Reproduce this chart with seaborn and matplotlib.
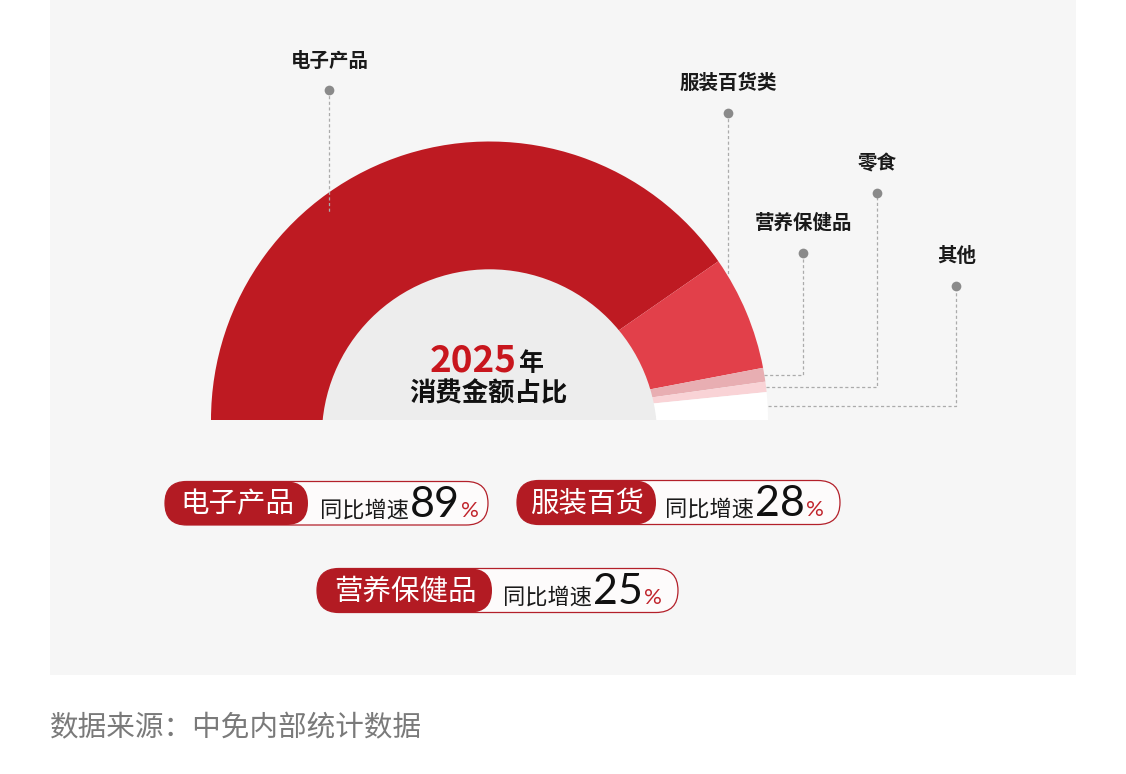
import numpy as np
import pandas as pd
import matplotlib
matplotlib.use('Agg')
import matplotlib.pyplot as plt
from matplotlib.patches import Circle, FancyBboxPatch, Rectangle
import seaborn as sns

# ---------------- data ----------------
categories = ['电子产品', '服装百货类', '营养保健品', '零食', '其他']
shares = [80.7, 13.3, 1.6, 1.2, 3.2]
slice_colors = ['#BE1A22', '#E2404A', '#E8AEB2', '#F9D3D6', '#FFFFFF']

badge_categories = ['电子产品', '服装百货', '营养保健品']
growth_rates = [89, 28, 25]

center_year = '2025'
center_year_suffix = '年'
center_title = '消费金额占比'
growth_label = '同比增速'
source_text = '数据来源：中免内部统计数据'

# ---------------- style ----------------
sns.set_theme(style='white')
plt.rcParams['font.family'] = ['Noto Sans CJK SC', 'DejaVu Sans']

W, H = 1126, 774
fig = plt.figure(figsize=(W / 100, H / 100), dpi=100)
fig.patch.set_facecolor('white')
ax = fig.add_axes([0, 0, 1, 1])

# panel background
ax.add_patch(Rectangle((50, 0), 1026, 675, facecolor='#F6F6F6', edgecolor='none', zorder=0))

# ---------------- half donut ----------------
cx, cy = 489.5, 420.0
R = 278.5
hole_cy, hole_r = 437.0, 167.7
total = sum(shares)
vals = shares + [total]                      # hidden lower half
cols = list(sns.color_palette(slice_colors)) + ['none']
wedges, _ = ax.pie(vals, colors=cols, startangle=180, counterclock=True,
                   radius=R, center=(cx, cy), frame=True,
                   wedgeprops=dict(linewidth=0, edgecolor='none'))
wedges[-1].set_visible(False)
for w in wedges:
    w.set_zorder(2)

hole = Circle((cx, hole_cy), hole_r, facecolor='#EDEDED', edgecolor='none', zorder=3)
ax.add_patch(hole)
hole.set_clip_path(Rectangle((0, 0), W, cy, transform=ax.transData))

ax.set_xlim(0, W)
ax.set_ylim(H, 0)
ax.set_aspect('equal')
ax.axis('off')

# ---------------- leader lines & labels ----------------
# layout: (x of leader, label y, dot y, style, end radius)
leader_layout = [
    (328.5, 61, 90, 'down', 263),
    (727.5, 83, 113, 'down', R),
    (802.5, 223, 253, 'elbow', R),
    (876.5, 164, 193, 'elbow', R),
    (955.5, 257, 286, 'elbow', R),
]
line_kw = dict(color='#ABABAB', lw=0.9, linestyle=(0, (2.5, 2)), zorder=4)
for w, cat, (lx, ly, dy, style, er) in zip(wedges[:-1], categories, leader_layout):
    if style == 'down':
        ey = cy - np.sqrt(er ** 2 - (lx - cx) ** 2)
        ax.plot([lx, lx], [dy, ey], **line_kw)
    else:
        mid = np.deg2rad((w.theta1 + w.theta2) / 2)
        px = cx + R * np.cos(mid)
        py = cy + R * np.sin(mid)
        ax.plot([px, lx, lx], [py, py, dy], **line_kw)
    ax.plot([lx], [dy], marker='o', markersize=7, color='#8A8A8A', markeredgewidth=0, zorder=5)
    ax.text(lx + 1, ly, cat, ha='center', va='center', fontsize=14, fontweight='bold',
            color='#1A1A1A', zorder=5)

# ---------------- center text ----------------
ax.text(517, 371, center_year, ha='right', va='baseline', fontsize=26.5, color='#C8161D',
        fontweight='bold', zorder=6)
ax.text(518, 371, center_year_suffix, ha='left', va='baseline', fontsize=18,
        fontweight='bold', color='#111111', zorder=6)
ax.text(488.5, 394, center_title, ha='center', va='center', fontsize=19,
        fontweight='bold', color='#111111', zorder=6)

# ---------------- badges ----------------
badge_layout = [  # x0, x1, x_red_end, y0, y1, x_text_start
    (165, 488, 308, 481.5, 525.0, 320),
    (517, 840, 656, 480.5, 524.5, 665),
    (317, 678, 492, 568.5, 612.5, 503),
]
renderer = fig.canvas.get_renderer()
inv = ax.transData.inverted()
for cat, rate, (x0, x1, xr, y0, y1, xt) in zip(badge_categories, growth_rates, badge_layout):
    h = y1 - y0
    ax.add_patch(FancyBboxPatch((x0, y0), x1 - x0, h,
                                boxstyle=f'round,pad=0,rounding_size={h / 2}',
                                facecolor='#FDFBFB', edgecolor='#B3202A', lw=0.9, zorder=3))
    ax.add_patch(FancyBboxPatch((x0, y0), xr - x0, h,
                                boxstyle=f'round,pad=0,rounding_size={h / 2}',
                                facecolor='#B31B23', edgecolor='none', zorder=4))
    yc = (y0 + y1) / 2
    ax.text((x0 + xr) / 2 + 1, yc + 1, cat, ha='center', va='center', fontsize=20.5,
            color='white', fontweight='medium', zorder=5)
    xb = xt
    yb = yc + 13.5
    parts = [
        (growth_label, dict(fontsize=16, color='#1A1A1A')),
        (str(rate), dict(fontsize=31, color='#111111', family=['Lato', 'DejaVu Sans'])),
        ('%', dict(fontsize=16, color='#C0232B', family=['Lato', 'DejaVu Sans'])),
    ]
    for s, kw in parts:
        t = ax.text(xb, yb, s, ha='left', va='baseline', zorder=5, **kw)
        bb = t.get_window_extent(renderer)
        xb = inv.transform((bb.x1, bb.y0))[0] + 1

# ---------------- source ----------------
ax.text(50, 728, source_text, ha='left', va='center', fontsize=20.6, color='#7A7A7A')

fig.savefig('out.png', dpi=100, facecolor='white')
